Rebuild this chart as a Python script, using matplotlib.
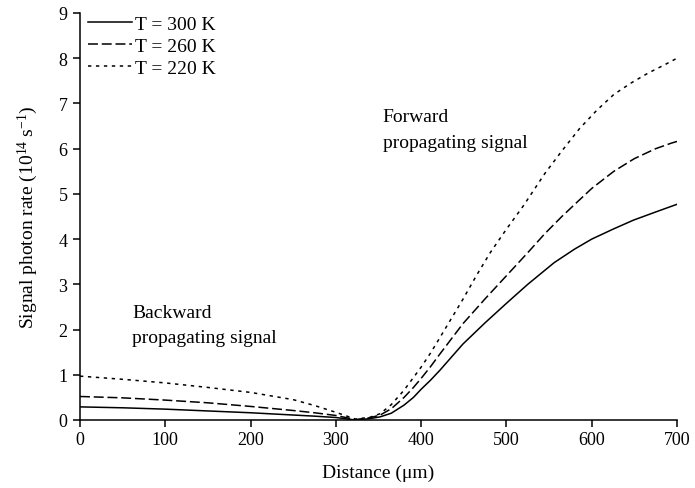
import matplotlib
matplotlib.use("Agg")
import matplotlib.pyplot as plt

plt.rcParams['font.family'] = ['Liberation Serif', 'DejaVu Serif']
plt.rcParams['mathtext.fontset'] = 'custom'
plt.rcParams['mathtext.rm'] = 'Liberation Serif'
plt.rcParams['mathtext.it'] = 'Liberation Serif:italic'

# Data (distance in um, photon rate in 1e14 s^-1)
x_300 = [0, 50, 100, 150, 200, 250, 275, 300, 323, 340, 352, 365, 380, 391, 400, 411, 422, 449,
         475, 500, 525, 556, 580, 600, 625, 649, 675, 700]
y_300 = [0.29, 0.27, 0.24, 0.20, 0.16, 0.11, 0.085, 0.055, 0.0, 0.03, 0.07, 0.15, 0.33, 0.50, 0.68,
         0.88, 1.10, 1.68, 2.15, 2.58, 3.00, 3.48, 3.78, 4.00, 4.22, 4.42, 4.60, 4.77]

x_260 = [0, 50, 100, 150, 200, 250, 275, 300, 323, 340, 352, 365, 380, 391, 400, 411, 422, 449,
         475, 500, 525, 545, 565, 583, 600, 626, 650, 675, 693, 700]
y_260 = [0.52, 0.49, 0.44, 0.38, 0.30, 0.21, 0.16, 0.10, 0.01, 0.05, 0.11, 0.25, 0.50, 0.72, 0.92,
         1.18, 1.46, 2.13, 2.68, 3.19, 3.70, 4.12, 4.50, 4.82, 5.12, 5.50, 5.78, 6.00, 6.12, 6.16]

x_220 = [0, 50, 100, 150, 200, 250, 275, 300, 323, 340, 352, 365, 380, 391, 400, 411, 420, 449,
         465, 481, 500, 520, 545, 565, 586, 606, 626, 646, 666, 685, 700]
y_220 = [0.97, 0.90, 0.82, 0.72, 0.61, 0.45, 0.32, 0.17, 0.02, 0.06, 0.14, 0.34, 0.66, 0.94, 1.17,
         1.48, 1.76, 2.67, 3.20, 3.70, 4.22, 4.74, 5.45, 5.95, 6.45, 6.85, 7.20, 7.45, 7.67, 7.85, 8.00]

labels = ['T = 300 K', 'T = 260 K', 'T = 220 K']
x_ticks = [0, 100, 200, 300, 400, 500, 600, 700]
y_ticks = [0, 1, 2, 3, 4, 5, 6, 7, 8, 9]

fig = plt.figure(figsize=(6.95, 4.89), dpi=100)
ax = fig.add_axes([80/695, 1-421/489, 597/695, 407/489])

lw = 1.1
ax.plot(x_300, y_300, color='black', lw=lw, linestyle='-', label=labels[0])
ax.plot(x_260, y_260, color='black', lw=lw, linestyle=(0, (6.5, 2.5)), label=labels[1])
ax.plot(x_220, y_220, color='black', lw=lw, linestyle=(0, (2.2, 3.0)), label=labels[2])

ax.set_xlim(0, 700)
ax.set_ylim(0, 9)
ax.set_xticks(x_ticks)
ax.set_yticks(y_ticks)
for s in ['top', 'right']:
    ax.spines[s].set_visible(False)
for s in ['left', 'bottom']:
    ax.spines[s].set_linewidth(1.1)
ax.tick_params(axis='both', direction='out', length=5, width=1.1, labelsize=13, colors='black')
ax.tick_params(axis='x', pad=3)
ax.tick_params(axis='y', pad=4)

ax.set_xlabel('Distance (\u03bcm)', fontsize=14, labelpad=11)
ax.set_ylabel('Signal photon rate (10$^{14}$ s$^{\u2212 1}$)', fontsize=14, labelpad=13)

leg = ax.legend(loc='upper left', bbox_to_anchor=(-0.009, 1.028), frameon=False, fontsize=14,
                handlelength=2.25, handletextpad=0.15, labelspacing=0.22, borderaxespad=0.3)

ax.text(355, 6.61, 'Forward', fontsize=14, va='baseline', ha='left')
ax.text(355, 6.03, 'propagating signal', fontsize=14, va='baseline', ha='left')
ax.text(61, 2.27, 'Backward', fontsize=14, va='baseline', ha='left')
ax.text(61, 1.73, 'propagating signal', fontsize=14, va='baseline', ha='left')

fig.savefig('out.png', dpi=100)
